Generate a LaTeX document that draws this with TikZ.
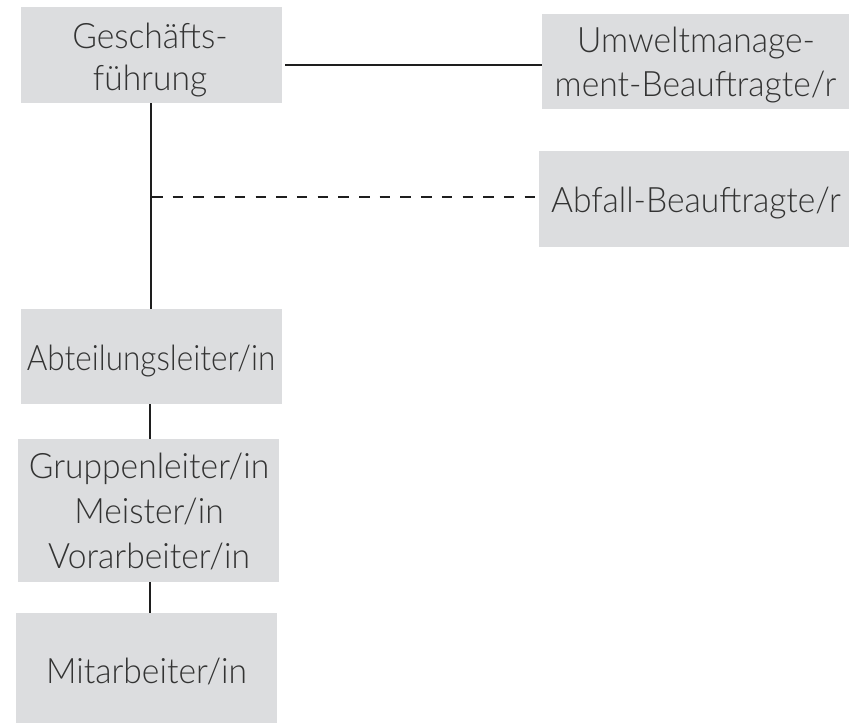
\documentclass[tikz,border=0pt]{standalone}
\usepackage{fontspec}
\setmainfont{Lato}[UprightFont=* Light, FakeStretch=0.96]
\newfontfamily\narrowlato{Lato}[UprightFont=* Light, FakeStretch=0.9]
\begin{document}
\begin{tikzpicture}[x=1pt,y=-1pt,
  box/.style={fill=boxgray, draw=none, inner sep=0pt},
  txt/.style={anchor=base, inner sep=0pt, text=textgray, font=\fontsize{35}{45}\selectfont},
  conn/.style={line width=2.4pt, draw=linegray},
  dashconn/.style={conn, dash pattern=on 10.5pt off 10.2pt}]
\definecolor{boxgray}{HTML}{DCDDDF}
\definecolor{textgray}{HTML}{333333}
\definecolor{linegray}{HTML}{1E1E1E}
\useasboundingbox (0,0) rectangle (849,723);
% boxes
\node[box, minimum width=261pt, minimum height=96pt] (gf) at (151.5,55) {};
\node[box, minimum width=307pt, minimum height=95pt] (um) at (695.5,61.5) {};
\node[box, minimum width=310pt, minimum height=96pt] (ab) at (694,199) {};
\node[box, minimum width=261pt, minimum height=95pt] (al) at (151.5,356.5) {};
\node[box, minimum width=261pt, minimum height=143pt] (gl) at (148.5,510.5) {};
\node[box, minimum width=261pt, minimum height=110pt] (ma) at (146.5,668) {};
% texts
\node[txt] (gf1) at (150,48) {Geschäfts-};
\node[txt] (gf2) at (150,90) {führung};
\node[txt] (um1) at (696,52) {Umweltmanage-};
\node[txt] (um2) at (695.5,96) {ment-Beauftragte/r};
\node[txt] (ab1) at (696,212) {Abfall-Beauftragte/r};
\node[txt, font=\fontsize{35}{45}\narrowlato] (al1) at (151,370) {Abteilungsleiter/in};
\node[txt] (gl1) at (149,478) {Gruppenleiter/in};
\node[txt] (gl2) at (149,523) {Meister/in};
\node[txt] (gl3) at (149,568) {Vorarbeiter/in};
\node[txt] (ma1) at (146.5,683) {Mitarbeiter/in};
% connectors
\coordinate (d0) at (152,197);
\draw[conn] (gf.south -| 151,0) -- (al.north -| 151,0);
\draw[conn] (gf.east |- 0,65) ++(3,0) -- (um.west |- 0,65);
\draw[dashconn] (d0) -- (ab.west |- d0);
\draw[conn] (al.south -| 150,0) -- (gl.north -| 150,0);
\draw[conn] (gl.south -| 150,0) -- (ma.north -| 150,0);
\end{tikzpicture}
\end{document}
